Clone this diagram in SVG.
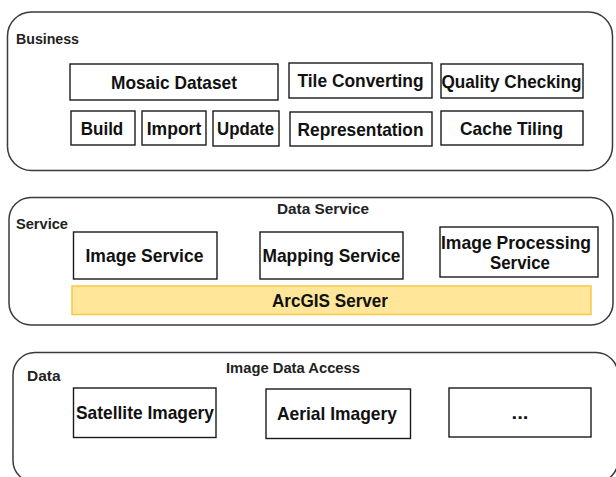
<svg xmlns="http://www.w3.org/2000/svg" width="616" height="477" viewBox="0 0 616 477">
<style>
.layer{fill:#fff;stroke:#3a3a3a;stroke-width:1.5}
.box{fill:#fff;stroke:#1a1a1a;stroke-width:1.4}
.t{font-family:"Liberation Sans",Arial,sans-serif;font-weight:bold;font-size:18.5px;fill:#111;text-anchor:middle}
.lbl{font-family:"Liberation Sans",Arial,sans-serif;font-weight:bold;font-size:14px;fill:#222}
.mid{text-anchor:middle}
</style>
<rect width="616" height="477" fill="#fff"/>
<g id="business-layer">
<rect class="layer" x="7.5" y="12" width="605" height="158.5" rx="24" ry="24"/>
<text class="lbl" x="16" y="44" textLength="63" lengthAdjust="spacingAndGlyphs">Business</text>
</g>
<g id="mosaic-dataset"><rect class="box" x="70" y="64" width="208" height="36"/><text class="t" x="174" y="88.5" textLength="126" lengthAdjust="spacingAndGlyphs">Mosaic Dataset</text></g>
<g id="tile-converting"><rect class="box" x="289" y="63" width="143" height="35"/><text class="t" x="360.5" y="87" textLength="126" lengthAdjust="spacingAndGlyphs">Tile Converting</text></g>
<g id="quality-checking"><rect class="box" x="441" y="64" width="142" height="34"/><text class="t" x="511.5" y="87.5" textLength="140" lengthAdjust="spacingAndGlyphs">Quality Checking</text></g>
<g id="build"><rect class="box" x="71" y="111" width="64" height="34"/><text class="t" x="102" y="134.5" textLength="42.5" lengthAdjust="spacingAndGlyphs">Build</text></g>
<g id="import"><rect class="box" x="142" y="111" width="64" height="34"/><text class="t" x="174" y="134.5" textLength="54.5" lengthAdjust="spacingAndGlyphs">Import</text></g>
<g id="update"><rect class="box" x="213" y="111" width="66" height="35"/><text class="t" x="245.5" y="134.5" textLength="57" lengthAdjust="spacingAndGlyphs">Update</text></g>
<g id="representation"><rect class="box" x="290" y="112" width="142" height="34"/><text class="t" x="360.5" y="135.5" textLength="126" lengthAdjust="spacingAndGlyphs">Representation</text></g>
<g id="cache-tiling"><rect class="box" x="441" y="111" width="142" height="34"/><text class="t" x="511.5" y="134.5" textLength="103" lengthAdjust="spacingAndGlyphs">Cache Tiling</text></g>

<g id="service-layer">
<rect class="layer" x="9" y="197.5" width="604" height="127.5" rx="22" ry="22"/>
<text class="lbl mid" x="323" y="214" textLength="92" lengthAdjust="spacingAndGlyphs">Data  Service</text>
<text class="lbl" x="16" y="229" textLength="52" lengthAdjust="spacingAndGlyphs">Service</text>
</g>
<g id="image-service"><rect class="box" x="73.5" y="232" width="143.5" height="47"/><text class="t" x="144.5" y="262" textLength="118" lengthAdjust="spacingAndGlyphs">Image Service</text></g>
<g id="mapping-service"><rect class="box" x="260" y="232" width="143" height="47"/><text class="t" x="331.5" y="262" textLength="138" lengthAdjust="spacingAndGlyphs">Mapping Service</text></g>
<g id="image-processing-service"><rect class="box" x="440" y="227" width="158" height="50"/><text class="t" x="516" y="248.5" textLength="150" lengthAdjust="spacingAndGlyphs">Image Processing</text><text class="t" x="520" y="269" textLength="60" lengthAdjust="spacingAndGlyphs">Service</text></g>
<g id="arcgis-server"><rect x="72" y="286" width="519" height="28.5" fill="#FFE699" stroke="#F8C84A" stroke-width="1.5"/><text class="t" x="330" y="307" textLength="116" lengthAdjust="spacingAndGlyphs">ArcGIS Server</text></g>

<g id="data-layer">
<rect class="layer" x="13" y="352.5" width="605" height="130" rx="22" ry="22"/>
<text class="lbl mid" x="293" y="373" textLength="134" lengthAdjust="spacingAndGlyphs">Image Data Access</text>
<text class="lbl" x="27" y="381" textLength="33.5" lengthAdjust="spacingAndGlyphs">Data</text>
</g>
<g id="satellite-imagery"><rect class="box" x="73.5" y="388" width="142.5" height="49.5"/><text class="t" x="145" y="419" textLength="138" lengthAdjust="spacingAndGlyphs">Satellite Imagery</text></g>
<g id="aerial-imagery"><rect class="box" x="266" y="389" width="144.5" height="49.5"/><text class="t" x="337" y="420" textLength="120" lengthAdjust="spacingAndGlyphs">Aerial Imagery</text></g>
<g id="more"><rect class="box" x="449" y="388" width="142" height="49"/><text class="t" x="520" y="419" textLength="17" lengthAdjust="spacingAndGlyphs">...</text></g>
<g id="connectors"/>
</svg>
